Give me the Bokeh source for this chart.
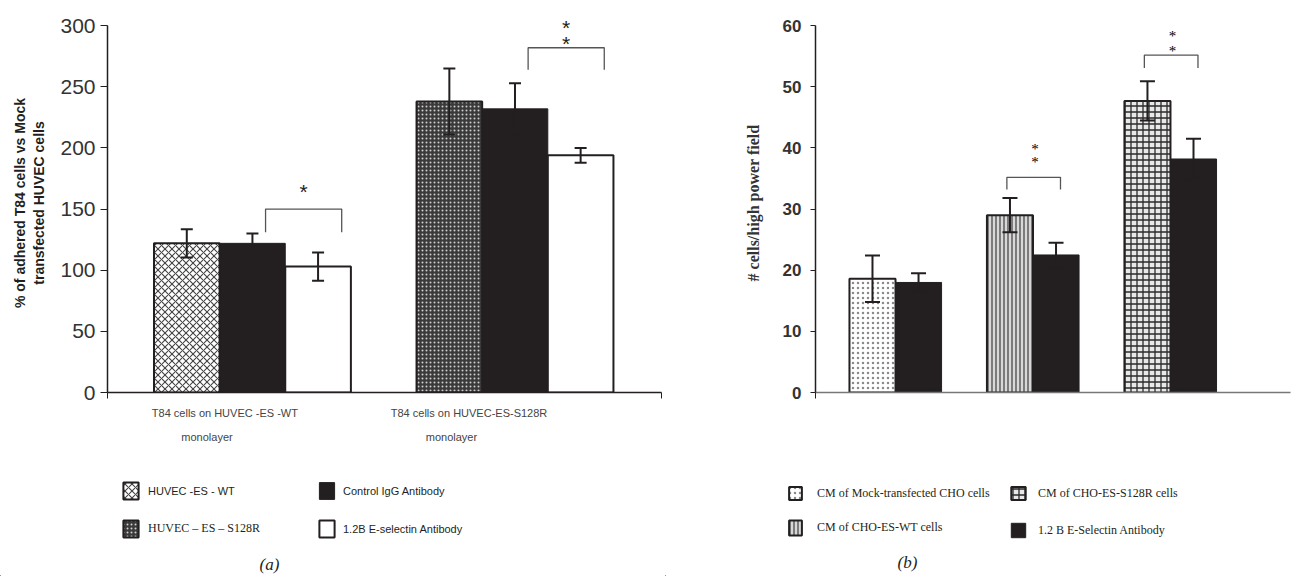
from bokeh.plotting import figure
from bokeh.models import (ColumnDataSource, Whisker, TeeHead, Label, Legend, LegendItem,
                          FixedTicker, Range1d, LinearAxis)
from bokeh.layouts import row, column
from bokeh.embed import file_html
from bokeh.resources import INLINE

# ---------------- data : panel (a) ----------------
a_group_line1 = ["T84 cells on HUVEC -ES -WT", "T84 cells on HUVEC-ES-S128R"]
a_group_line2 = ["monolayer", "monolayer"]
a_first_labels = ["HUVEC -ES - WT", "HUVEC \u2013 ES \u2013 S128R"]
a_ctrl_label = "Control IgG Antibody"
a_esel_label = "1.2B E-selectin Antibody"
a_first_mean = [122, 238]
a_first_err = [11.5, 27]
a_ctrl_mean = [122, 232]
a_ctrl_err = [8, 21]
a_esel_mean = [103, 194]
a_esel_err = [11.5, 6]
a_yticks = [0, 50, 100, 150, 200, 250, 300]
a_ylabel = "% of adhered T84 cells vs Mock\ntransfected HUVEC cells"
a_sig_top = [150, 282]
a_sig_leg = [131, 264]
a_sig_text = [["*"], ["*", "*"]]
a_sig_text_y = [[164], [298.5, 285.5]]

# ---------------- data : panel (b) ----------------
b_cm_labels = ["CM of Mock-transfected CHO cells", "CM of CHO-ES-WT cells", "CM of CHO-ES-S128R cells"]
b_ab_label = "1.2 B E-Selectin Antibody"
b_cm_mean = [18.6, 29.0, 47.7]
b_cm_err = [3.8, 2.8, 3.2]
b_ab_mean = [18.0, 22.5, 38.2]
b_ab_err = [1.5, 2.0, 3.3]
b_yticks = [0, 10, 20, 30, 40, 50, 60]
b_ylabel = "# cells/high power field"
b_sig_groups = [1, 2]
b_sig_top = [35.2, 55.2]
b_sig_leg = [33.2, 53.1]
b_sig_text_y = [[39.8, 37.7], [58.3, 55.9]]

INK = "#231f20"
SANS = "Liberation Sans"
SERIF = "Liberation Serif"

# ---------------- styles ----------------
STY_WT = dict(fill_color="white", line_color=INK, line_width=2,
              hatch_pattern="diagonal_cross", hatch_color="#444444", hatch_scale=7, hatch_weight=1.1)
STY_S128 = dict(fill_color="#3a3a3a", line_color=INK, line_width=2,
                hatch_pattern="dot", hatch_color="#cfcfcf", hatch_scale=4, hatch_weight=1)
STY_BLACK = dict(fill_color=INK, line_color=INK, line_width=1)
STY_WHITE = dict(fill_color="white", line_color=INK, line_width=2)
STY_MOCK = dict(fill_color="white", line_color=INK, line_width=2,
                hatch_pattern="dot", hatch_color="#8a8a8a", hatch_scale=5, hatch_weight=0.6)
STY_WTB = dict(fill_color="#d8d8d8", line_color=INK, line_width=2,
               hatch_pattern="vertical_line", hatch_color="#4a4a4a", hatch_scale=4, hatch_weight=1.3)
STY_S128B = dict(fill_color="#e8e8e8", line_color=INK, line_width=2,
                 hatch_pattern="cross", hatch_color="#2a2a2a", hatch_scale=6, hatch_weight=1.3)

TOP_H = 424      # height of the chart row
FRAME_BOT = 392  # pixel row of y = 0
FRAME_TOP = 13
STRIP_H = 576 - TOP_H


def base_fig(width, x_range, y_range, left, right):
    p = figure(width=width, height=TOP_H, x_range=x_range, y_range=y_range,
               output_backend="svg", toolbar_location=None,
               min_border_left=left, min_border_right=right,
               min_border_top=FRAME_TOP, min_border_bottom=TOP_H - FRAME_BOT)
    p.xgrid.visible = False
    p.ygrid.visible = False
    p.outline_line_color = None
    p.background_fill_color = "white"
    p.border_fill_color = "white"
    return p


def blank_fig(width, x_range, y_range):
    p = figure(width=width, height=STRIP_H, x_range=x_range, y_range=y_range,
               output_backend="svg", toolbar_location=None,
               x_axis_location=None, y_axis_location=None,
               min_border_left=0, min_border_right=0, min_border_top=0, min_border_bottom=0)
    p.xgrid.visible = False
    p.ygrid.visible = False
    p.outline_line_color = None
    return p


def add_legend(p, style, label, x, y, font, size, gw, gh, standoff):
    # swatch renderer: a single bar placed far outside the visible range
    r = p.vbar(x=[-1000], top=[-1000], bottom=[-1001], width=0.2, **style)
    lg = Legend(items=[LegendItem(label=label, renderers=[r])], location=(x, y),
                padding=0, margin=0, border_line_color=None, background_fill_alpha=0,
                glyph_width=gw, glyph_height=gh, label_height=gh, label_standoff=standoff,
                label_text_font=font, label_text_font_size=size, label_text_color=INK)
    p.add_layout(lg, "center")


def add_whisker(p, xs, mean, err, size):
    src = ColumnDataSource(dict(x=xs, upper=[m + e for m, e in zip(mean, err)],
                                lower=[m - e for m, e in zip(mean, err)]))
    w = Whisker(source=src, base="x", upper="upper", lower="lower", level="overlay",
                line_color=INK, line_width=2,
                upper_head=TeeHead(size=size, line_color=INK, line_width=2),
                lower_head=TeeHead(size=size, line_color=INK, line_width=2))
    p.add_layout(w)


def style_yaxis(p, ticks, tick_out, standoff, size, bold):
    ax = p.yaxis
    ax.ticker = FixedTicker(ticks=ticks)
    ax.bounds = (ticks[0], ticks[-1])
    ax.minor_tick_line_color = None
    ax.major_tick_in = 0
    ax.major_tick_out = tick_out
    ax.major_label_standoff = standoff
    ax.major_label_text_font = SANS
    ax.major_label_text_font_style = "bold" if bold else "normal"
    ax.major_label_text_font_size = size
    ax.major_label_text_color = "#333333"
    ax.axis_line_color = INK
    ax.axis_line_width = 1.5
    ax.major_tick_line_color = INK


def style_xaxis(p, ticks, color):
    ax = p.xaxis
    ax.ticker = FixedTicker(ticks=ticks)
    ax.major_tick_in = 0
    ax.major_tick_out = 6
    ax.minor_tick_line_color = None
    ax.major_label_text_font_size = "0px"
    ax.major_label_standoff = 0
    ax.major_label_text_color = None
    ax.axis_line_color = color
    ax.axis_line_width = 1.5
    ax.major_tick_line_color = INK


# ================= panel (a) =================
A_X0, A_X1 = -0.552, 1.558
A_Y1 = 310
pa = base_fig(665, Range1d(A_X0, A_X1), Range1d(0, A_Y1), 107, 4)
bw_a = 0.25
gx_a = list(range(len(a_first_mean)))

pa.vbar(x=[gx_a[0] - bw_a], top=[a_first_mean[0]], width=bw_a, **STY_WT)
pa.vbar(x=[gx_a[1] - bw_a], top=[a_first_mean[1]], width=bw_a, **STY_S128)
pa.vbar(x=gx_a, top=a_ctrl_mean, width=bw_a, **STY_BLACK)
pa.vbar(x=[g + bw_a for g in gx_a], top=a_esel_mean, width=bw_a, **STY_WHITE)

add_whisker(pa, [g - bw_a for g in gx_a], a_first_mean, a_first_err, 12)
add_whisker(pa, gx_a, a_ctrl_mean, a_ctrl_err, 12)
add_whisker(pa, [g + bw_a for g in gx_a], a_esel_mean, a_esel_err, 12)

for g, top, leg, texts, tys in zip(gx_a, a_sig_top, a_sig_leg, a_sig_text, a_sig_text_y):
    x0 = g + 0.05
    x1 = g + 0.34
    pa.line(x=[x0, x0, x1, x1], y=[leg, top, top, leg], line_color="#555555", line_width=1.3)
    for t, ty in zip(texts, tys):
        pa.add_layout(Label(x=(x0 + x1) / 2, y=ty, text=t, text_align="center",
                            text_baseline="middle", text_font=SANS, text_font_size="21px",
                            text_color=INK))

style_yaxis(pa, a_yticks, 7, 5, "21px", False)
pa.yaxis.axis_label = a_ylabel
pa.yaxis.axis_label_text_font = SANS
pa.yaxis.axis_label_text_font_style = "bold"
pa.yaxis.axis_label_text_font_size = "14px"
pa.yaxis.axis_label_text_color = INK
pa.yaxis.axis_label_standoff = 10
style_xaxis(pa, [A_X0, A_X1], INK)

# first line of the category names: an extra, line-less axis below the chart
line1_dx = [-0.105, -0.175]
line2_dx = [-0.173, -0.242]
line1_x = [round(g + d, 3) for g, d in zip(gx_a, line1_dx)]
cat_axis = LinearAxis(ticker=FixedTicker(ticks=line1_x),
                      major_label_overrides={x: t for x, t in zip(line1_x, a_group_line1)},
                      axis_line_color=None, major_tick_line_color=None, minor_tick_line_color=None,
                      major_tick_in=0, major_tick_out=0, major_label_standoff=8,
                      major_label_text_font=SANS, major_label_text_font_size="11px",
                      major_label_text_color="#444444")
pa.add_layout(cat_axis, "below")

# lower strip of (a): second line of category names, legend, caption (same scales)
A_PX = (665 - 107 - 4) / (A_X1 - A_X0)
A_PY = (FRAME_BOT - FRAME_TOP) / A_Y1
la = blank_fig(665, Range1d(A_X0 - 107 / A_PX, A_X1 + 4 / A_PX),
               Range1d(-(576 - FRAME_BOT) / A_PY, -(TOP_H - FRAME_BOT) / A_PY))
for g, t2, d2 in zip(gx_a, a_group_line2, line2_dx):
    la.add_layout(Label(x=g + d2, y=-36, text=t2, text_align="center", text_baseline="middle",
                        text_font=SANS, text_font_size="11px", text_color="#444444"))

add_legend(la, STY_WT, a_first_labels[0], 121, 75, SANS, "11px", 19, 21, 8)
add_legend(la, STY_S128, a_first_labels[1], 121, 37, SERIF, "12px", 19, 21, 8)
add_legend(la, STY_BLACK, a_ctrl_label, 317, 75, SANS, "11px", 19, 21, 7)
add_legend(la, STY_WHITE, a_esel_label, 317, 37, SANS, "11px", 19, 21, 7)

la.add_layout(Label(x=0.065, y=-140.5, text="(a)", text_align="center", text_baseline="middle",
                    text_font=SERIF, text_font_style="italic", text_font_size="17px",
                    text_color=INK))

# ================= panel (b) =================
B_X0, B_X1 = -0.582, 2.873
B_Y1 = 62
pb = base_fig(629, Range1d(B_X0, B_X1), Range1d(0, B_Y1), 150, 4)
bw_b = 0.335
gx_b = list(range(len(b_cm_mean)))
off = bw_b / 2

pb.vbar(x=[gx_b[0] - off], top=[b_cm_mean[0]], width=bw_b, **STY_MOCK)
pb.vbar(x=[gx_b[1] - off], top=[b_cm_mean[1]], width=bw_b, **STY_WTB)
pb.vbar(x=[gx_b[2] - off], top=[b_cm_mean[2]], width=bw_b, **STY_S128B)
pb.vbar(x=[g + off for g in gx_b], top=b_ab_mean, width=bw_b, **STY_BLACK)

add_whisker(pb, [g - off for g in gx_b], b_cm_mean, b_cm_err, 15)
add_whisker(pb, [g + off for g in gx_b], b_ab_mean, b_ab_err, 15)

for g, top, leg, tys in zip(b_sig_groups, b_sig_top, b_sig_leg, b_sig_text_y):
    x0 = g - 0.19
    x1 = g + 0.2
    pb.line(x=[x0, x0, x1, x1], y=[leg, top, top, leg], line_color="#555555", line_width=1.3)
    for ty in tys:
        pb.add_layout(Label(x=(x0 + x1) / 2 + 0.01, y=ty, text="*", text_align="center",
                            text_baseline="middle", text_font=SERIF, text_font_size="15px",
                            text_color="#000000"))

style_yaxis(pb, b_yticks, 5, 9, "17px", True)
pb.yaxis.axis_label = b_ylabel
pb.yaxis.axis_label_text_font = SERIF
pb.yaxis.axis_label_text_font_style = "bold"
pb.yaxis.axis_label_text_font_size = "16px"
pb.yaxis.axis_label_text_color = "#333333"
pb.yaxis.axis_label_standoff = 18
style_xaxis(pb, [B_X0], "#777777")

B_PX = (629 - 150 - 4) / (B_X1 - B_X0)
B_PY = (FRAME_BOT - FRAME_TOP) / B_Y1
lb = blank_fig(629, Range1d(B_X0 - 150 / B_PX, B_X1 + 4 / B_PX),
               Range1d(-(576 - FRAME_BOT) / B_PY, -(TOP_H - FRAME_BOT) / B_PY))
add_legend(lb, STY_MOCK, b_cm_labels[0], 122, 75, SERIF, "12px", 16, 16, 14)
add_legend(lb, STY_WTB, b_cm_labels[1], 122, 39, SERIF, "12px", 16, 19, 14)
add_legend(lb, STY_S128B, b_cm_labels[2], 344, 75, SERIF, "12px", 18, 16, 11)
add_legend(lb, STY_BLACK, b_ab_label, 344, 37, SERIF, "12px", 18, 18, 11)

lb.add_layout(Label(x=0.087, y=-27.8, text="(b)", text_align="center", text_baseline="middle",
                    text_font=SERIF, text_font_style="italic", text_font_size="17px",
                    text_color=INK))

layout = column(row(pa, pb), row(la, lb))
open("out.html", "w").write(file_html(layout, INLINE))
